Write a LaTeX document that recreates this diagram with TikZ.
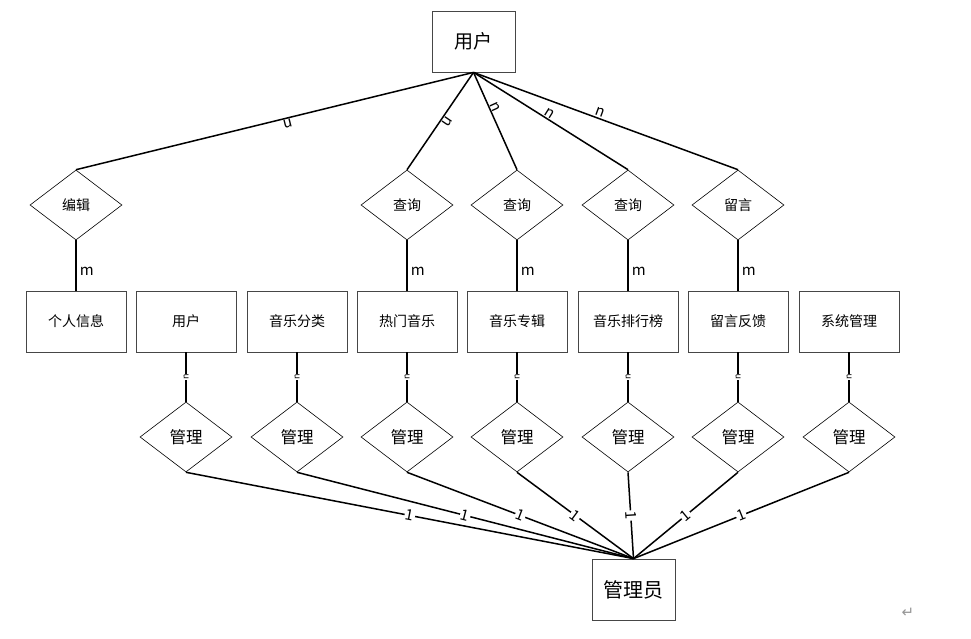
\documentclass[tikz,border=0pt]{standalone}
\usepackage{fontspec}
\setmainfont{Noto Sans CJK SC}
\newfontfamily\markfont{DejaVu Sans}
\usetikzlibrary{shapes.geometric}
\definecolor{framegray}{RGB}{70, 70, 70}
\definecolor{markgray}{RGB}{150, 150, 150}
\tikzset{
  entity/.style={
    draw=framegray,
    line width=0.8pt,
    minimum width=100pt,
    minimum height=61pt,
    inner sep=0pt,
    font=\fontsize{14pt}{15pt}\selectfont
  },
  bigentity/.style={
    entity,
    minimum width=83pt,
    font=\fontsize{19pt}{20pt}\selectfont
  },
  relation/.style={
    diamond,
    draw=black,
    line width=0.6pt,
    minimum width=92pt,
    minimum height=70pt,
    inner sep=0pt,
    font=\fontsize{14pt}{15pt}\selectfont
  },
  lowrelation/.style={
    relation,
    font=\fontsize{16.5pt}{17pt}\selectfont
  },
  link/.style={
    line width=1.5pt
  },
  card/.style={
    inner sep=1pt,
    font=\fontsize{15pt}{16pt}\selectfont
  },
  smallcard/.style={
    inner sep=0.5pt,
    fill=white,
    font=\fontsize{9pt}{9pt}\selectfont
  }
}

\begin{document}
\begin{tikzpicture}[x=1pt, y=-1pt]
  \useasboundingbox (0, 0) rectangle (971, 639);

  % top entity
  \node[bigentity] (user) at (473.5, 41.5) {用户};

  % upper relations
  \node[relation] (edit)   at (76, 205)  {编辑};
  \node[relation] (query1) at (407, 205) {查询};
  \node[relation] (query2) at (517, 205) {查询};
  \node[relation] (query3) at (628, 205) {查询};
  \node[relation] (msg)    at (738, 205) {留言};

  % entity row
  \node[entity] (info)    at (76, 321.5)  {个人信息};
  \node[entity] (users)   at (186, 321.5) {用户};
  \node[entity] (sort)    at (297, 321.5) {音乐分类};
  \node[entity] (hot)     at (407, 321.5) {热门音乐};
  \node[entity] (album)   at (517, 321.5) {音乐专辑};
  \node[entity] (rank)    at (628, 321.5) {音乐排行榜};
  \node[entity] (reply)   at (738, 321.5) {留言反馈};
  \node[entity] (system)  at (849, 321.5) {系统管理};

  % lower relations
  \node[lowrelation] (m1) at (186, 437) {管理};
  \node[lowrelation] (m2) at (297, 437) {管理};
  \node[lowrelation] (m3) at (407, 437) {管理};
  \node[lowrelation] (m4) at (517, 437) {管理};
  \node[lowrelation] (m5) at (628, 437) {管理};
  \node[lowrelation] (m6) at (738, 437) {管理};
  \node[lowrelation] (m7) at (849, 437) {管理};

  % bottom entity
  \node[bigentity, font=\fontsize{20pt}{21pt}\selectfont] (admin) at (633.5, 589.5) {管理员};

  % user side
  \path[link] (user.south) edge node[card, sloped, allow upside down, above, pos=0.47] {n} (edit.north)
              (user.south) edge node[card, sloped, allow upside down, above, pos=0.47] {n} (query1.north)
              (user.south) edge node[card, sloped, allow upside down, above, pos=0.38] {n} (query2.north)
              (user.south) edge node[card, sloped, allow upside down, above, pos=0.47] {n} (query3.north)
              (user.south) edge node[card, sloped, allow upside down, above, pos=0.47] {n} (msg.north);

  \path[link] (edit.south)   edge node[card, right=2pt, pos=0.62] {m} (info.north)
              (query1.south) edge node[card, right=2pt, pos=0.62] {m} (hot.north)
              (query2.south) edge node[card, right=2pt, pos=0.62] {m} (album.north)
              (query3.south) edge node[card, right=2pt, pos=0.62] {m} (rank.north)
              (msg.south)    edge node[card, right=2pt, pos=0.62] {m} (reply.north);

  % admin side
  \path[link] (m1.north) edge node[smallcard, rotate=90] {n} (users.south)
              (m2.north) edge node[smallcard, rotate=90] {n} (sort.south)
              (m3.north) edge node[smallcard, rotate=90] {n} (hot.south)
              (m4.north) edge node[smallcard, rotate=90] {n} (album.south)
              (m5.north) edge node[smallcard, rotate=90] {n} (rank.south)
              (m6.north) edge node[smallcard, rotate=90] {n} (reply.south)
              (m7.north) edge node[smallcard, rotate=90] {n} (system.south);

  \path[link] (m1.south) edge node[card, fill=white, sloped] {1} (admin.north)
              (m2.south) edge node[card, fill=white, sloped] {1} (admin.north)
              (m3.south) edge node[card, fill=white, sloped] {1} (admin.north)
              (m4.south) edge node[card, fill=white, sloped] {1} (admin.north)
              (m5.south) edge node[card, fill=white, sloped] {1} (admin.north)
              (m6.south) edge node[card, fill=white, sloped] {1} (admin.north)
              (m7.south) edge node[card, fill=white, sloped] {1} (admin.north);

  \node[text=markgray, font=\markfont\fontsize{15pt}{15pt}\selectfont] (para) at (908, 613) {↵};
\end{tikzpicture}
\end{document}
